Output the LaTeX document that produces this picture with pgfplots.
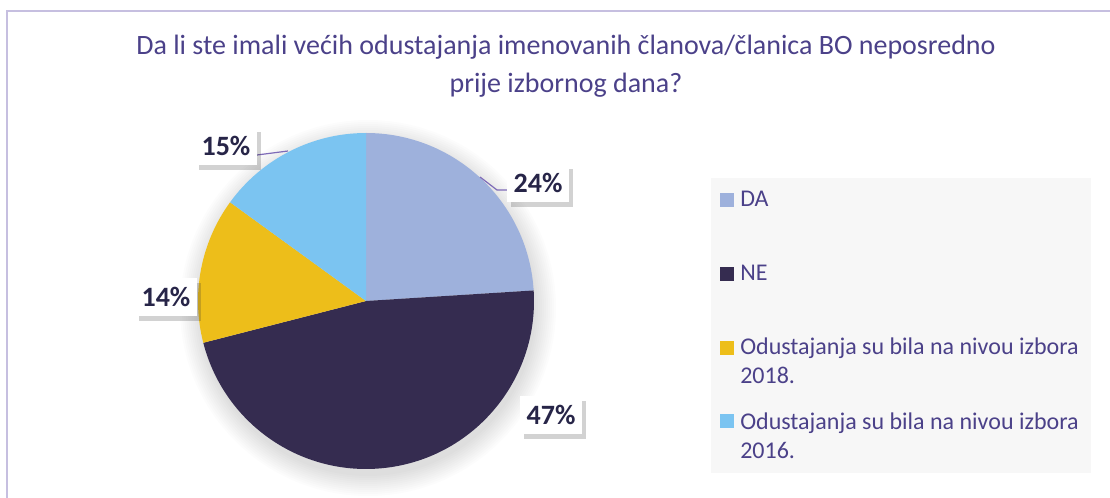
\documentclass[border=0pt]{standalone}
\usepackage{fontspec}
\setmainfont{Carlito}
\usepackage{pgfplots}
\usepackage{pgfplotstable}
\pgfplotsset{compat=1.18}
\usetikzlibrary{shadows}
\definecolor{cDA}{HTML}{9EB1DC}
\definecolor{cNE}{HTML}{352C50}
\definecolor{cO18}{HTML}{EDBE1A}
\definecolor{cO16}{HTML}{7BC4F1}
\definecolor{titlec}{HTML}{4B4189}
\definecolor{labc}{HTML}{272548}
\definecolor{framec}{HTML}{C6BFE0}
\definecolor{legbg}{HTML}{F7F7F7}
\definecolor{leaderc}{HTML}{7E6BB8}

\pgfplotstableread{
name value
DA 24
NE 47
O2018 14
O2016 15
}\piedata

\pgfplotstablegetelem{0}{value}\of\piedata \global\let\pieValA\pgfplotsretval
\pgfplotstablegetelem{1}{value}\of\piedata \global\let\pieValB\pgfplotsretval
\pgfplotstablegetelem{2}{value}\of\piedata \global\let\pieValC\pgfplotsretval
\pgfplotstablegetelem{3}{value}\of\piedata \global\let\pieValD\pgfplotsretval
\pgfmathsetmacro\pieAngA{90}
\pgfmathsetmacro\pieAngB{\pieAngA-3.6*\pieValA}
\pgfmathsetmacro\pieAngC{\pieAngB-3.6*\pieValB}
\pgfmathsetmacro\pieAngD{\pieAngC-3.6*\pieValC}
\pgfmathsetmacro\pieAngE{\pieAngD-3.6*\pieValD}
\newcommand\pieRad{126pt}

\begin{document}
\begin{tikzpicture}[
  lbl/.style={fill=white, text=labc, font=\fontsize{21}{24}\selectfont\bfseries,
    inner sep=0pt, minimum width=47pt, minimum height=28.5pt,
    drop shadow={shadow xshift=3pt, shadow yshift=-3.5pt, opacity=0.22, fill=black!80}},
  legtxt/.style={text=titlec, font=\fontsize{18}{21.75}\selectfont, anchor=base west, inner sep=0pt, align=left},
]
\begin{axis}[
  name=ax,
  x=0.75pt, y=0.75pt, y dir=reverse,
  xmin=0, xmax=1110, ymin=0, ymax=498,
  hide axis, clip=false,
]
% frame
\draw[framec, line width=1.5pt] (axis cs:7,498) -- (axis cs:7,11) -- (axis cs:1110,11);
% title (anchor = baseline of last line)
\node[text=titlec, font=\fontsize{21}{28.5}\selectfont, align=center, anchor=base, inner sep=0pt] at (axis cs:566,93)
  {Da li ste imali većih odustajanja imenovanih članova/članica BO neposredno\\prije izbornog dana?};
% soft shadow of pie
\pgfplotsinvokeforeach{0,2,4,6,8,10,12,14,16,18,20}{
  \fill[black, opacity=0.013] (axis cs:368,308) circle[radius=126pt+#1*0.75pt];
}
% pie sectors
\fill[cDA] (axis cs:366,301) -- ++(\pieAngA:\pieRad) arc[start angle=\pieAngA, end angle=\pieAngB, radius=\pieRad] -- cycle;
\fill[cNE] (axis cs:366,301) -- ++(\pieAngB:\pieRad) arc[start angle=\pieAngB, end angle=\pieAngC, radius=\pieRad] -- cycle;
\fill[cO18] (axis cs:366,301) -- ++(\pieAngC:\pieRad) arc[start angle=\pieAngC, end angle=\pieAngD, radius=\pieRad] -- cycle;
\fill[cO16] (axis cs:366,301) -- ++(\pieAngD:\pieRad) arc[start angle=\pieAngD, end angle=\pieAngE, radius=\pieRad] -- cycle;
% leader lines
\draw[leaderc, line width=0.9pt] (axis cs:257,155) -- (axis cs:288,151);
\draw[leaderc, line width=0.9pt] (axis cs:480,177) -- (axis cs:497,190) -- (axis cs:508,190);
% data labels
\node[lbl] at (axis cs:538,183) {\pieValA\%};
\node[lbl] at (axis cs:551,415) {\pieValB\%};
\node[lbl] at (axis cs:166,297) {\pieValC\%};
\node[lbl] at (axis cs:226,146) {\pieValD\%};
% legend
\fill[legbg] (axis cs:711,178) rectangle (axis cs:1091,473);
\fill[cDA] (axis cs:720,193) rectangle (axis cs:734,207);
\node[legtxt] at (axis cs:740,207) {DA};
\fill[cNE] (axis cs:720,267) rectangle (axis cs:734,281);
\node[legtxt] at (axis cs:740,281) {NE};
\fill[cO18] (axis cs:720,341) rectangle (axis cs:734,355);
\node[legtxt] at (axis cs:740,384) {Odustajanja su bila na nivou izbora\\2018.};
\fill[cO16] (axis cs:720,414) rectangle (axis cs:734,428);
\node[legtxt] at (axis cs:740,459) {Odustajanja su bila na nivou izbora\\2016.};
\end{axis}
\pgfresetboundingbox
\useasboundingbox (ax.south west) rectangle (ax.north east);
\end{tikzpicture}
\end{document}
